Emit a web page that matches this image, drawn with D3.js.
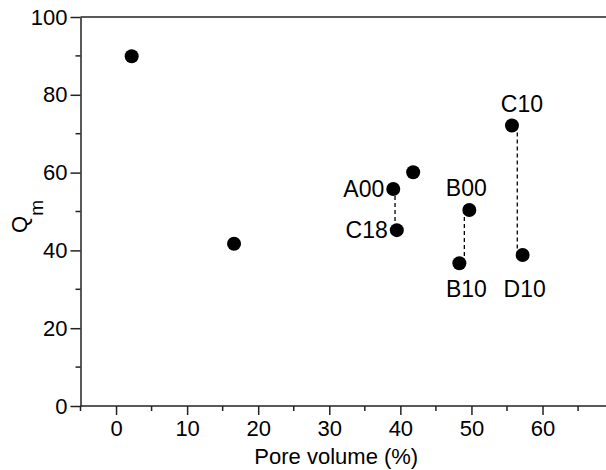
<!DOCTYPE html>
<html>
<head>
<meta charset="utf-8">
<script src="https://cdn.jsdelivr.net/npm/d3@7"></script>
<style>
  html, body { margin: 0; padding: 0; background: #fff; }
  svg { display: block; }
  text { font-family: "Liberation Sans", Arial, Helvetica, sans-serif; fill: #000; }
</style>
</head>
<body>
<svg id="chart" width="606" height="470"></svg>
<script>
// ---- data ----
const sampleNames = ["", "", "A00", "", "C18", "B00", "B10", "C10", "D10"];
const poreVolume  = [2.2, 16.6, 39.0, 41.8, 39.5, 49.7, 48.3, 55.7, 57.2];
const qmValues    = [89.9, 41.7, 55.8, 60.1, 45.2, 50.4, 36.7, 72.1, 38.8];
const pairs = [["A00", "C18"], ["B00", "B10"], ["C10", "D10"]];
const xTicks = [0, 10, 20, 30, 40, 50, 60];
const xMinorTicks = [-5, 5, 15, 25, 35, 45, 55, 65];
const yTicks = [0, 20, 40, 60, 80, 100];
const yMinorTicks = [10, 30, 50, 70, 90];
const xTitle = "Pore volume (%)";

// label placement (side of the point)
const labelSide = { A00: "left", C18: "left", B00: "above", B10: "below", C10: "above", D10: "below" };

// ---- layout ----
const W = 606, H = 470;
const m = { left: 80.5, top: 17, bottom: 406 };
const svg = d3.select("#chart");

const x = d3.scaleLinear().domain([-5, 69]).range([m.left, W + 0.5]);
const y = d3.scaleLinear().domain([0, 100]).range([m.bottom, m.top]);

const pts = poreVolume.map((v, i) => ({ name: sampleNames[i], x: v, y: qmValues[i] }));
const byName = Object.fromEntries(pts.filter(p => p.name).map(p => [p.name, p]));

// top frame line
svg.append("line")
  .attr("x1", m.left).attr("x2", W)
  .attr("y1", m.top).attr("y2", m.top)
  .attr("stroke", "#222").attr("stroke-width", 1.5);

// x axis
const fontSize = 22;
const gx = svg.append("g").attr("transform", `translate(0,${m.bottom})`)
  .call(d3.axisBottom(x).tickValues(xTicks).tickSize(9).tickPadding(5).tickSizeOuter(0));
gx.append("g").selectAll("line").data(xMinorTicks).join("line")
  .attr("x1", d => x(d)).attr("x2", d => x(d)).attr("y1", 0).attr("y2", 5)
  .attr("stroke", "#222").attr("stroke-width", 1.5);

// y axis
const gy = svg.append("g").attr("transform", `translate(${m.left},0)`)
  .call(d3.axisLeft(y).tickValues(yTicks).tickSize(10).tickPadding(3).tickSizeOuter(0));
gy.append("g").selectAll("line").data(yMinorTicks).join("line")
  .attr("x1", -5).attr("x2", 0).attr("y1", d => y(d)).attr("y2", d => y(d))
  .attr("stroke", "#222").attr("stroke-width", 1.5);

[gx, gy].forEach(g => {
  g.select(".domain").attr("stroke", "#222").attr("stroke-width", 1.5);
  g.selectAll(".tick line").attr("stroke", "#222").attr("stroke-width", 1.5);
  g.selectAll(".tick text").style("font-size", fontSize + "px")
    .style("font-family", '"Liberation Sans", Arial, sans-serif').attr("fill", "#000");
});
// extend x domain line to left axis and right edge
gx.select(".domain").attr("d", `M${m.left},0H${W}`);

// axis titles
svg.append("text")
  .attr("x", x(30) + 7).attr("y", 464)
  .attr("text-anchor", "middle")
  .style("font-size", fontSize + "px")
  .text(xTitle);

const yt = svg.append("text")
  .attr("transform", `translate(27,${(m.top + m.bottom) / 2 + 5}) rotate(-90)`)
  .attr("text-anchor", "middle")
  .style("font-size", "22px");
yt.append("tspan").text("Q");
yt.append("tspan").attr("dy", 16).style("font-size", "19px").text("m");

// dashed connectors
svg.append("g").selectAll("line").data(pairs).join("line")
  .attr("x1", d => x((byName[d[0]].x + byName[d[1]].x) / 2))
  .attr("x2", d => x((byName[d[0]].x + byName[d[1]].x) / 2))
  .attr("y1", d => y(byName[d[0]].y))
  .attr("y2", d => y(byName[d[1]].y))
  .attr("stroke", "#000").attr("stroke-width", 1.3)
  .attr("stroke-dasharray", "4,3");

// points
svg.append("g").selectAll("circle").data(pts).join("circle")
  .attr("cx", d => x(d.x)).attr("cy", d => y(d.y)).attr("r", 7)
  .attr("fill", "#000");

// labels
const labelSize = 23;
svg.append("g").selectAll("text").data(pts.filter(p => p.name)).join("text")
  .attr("x", d => {
    const s = labelSide[d.name];
    if (s === "left") return x(d.x) - 9;
    return x(d.x) + (d.name === "B10" ? 7 : d.name === "C10" ? 10 : d.name === "D10" ? 2 : -3);
  })
  .attr("y", d => {
    const s = labelSide[d.name];
    if (s === "left") return y(d.y) + 8;
    if (s === "above") return y(d.y) - 14;
    return y(Math.min(...pts.filter(p => labelSide[p.name] === "below").map(p => p.y))) + 34;
  })
  .attr("text-anchor", d => labelSide[d.name] === "left" ? "end" : "middle")
  .style("font-size", labelSize + "px")
  .text(d => d.name);
</script>
</body>
</html>
